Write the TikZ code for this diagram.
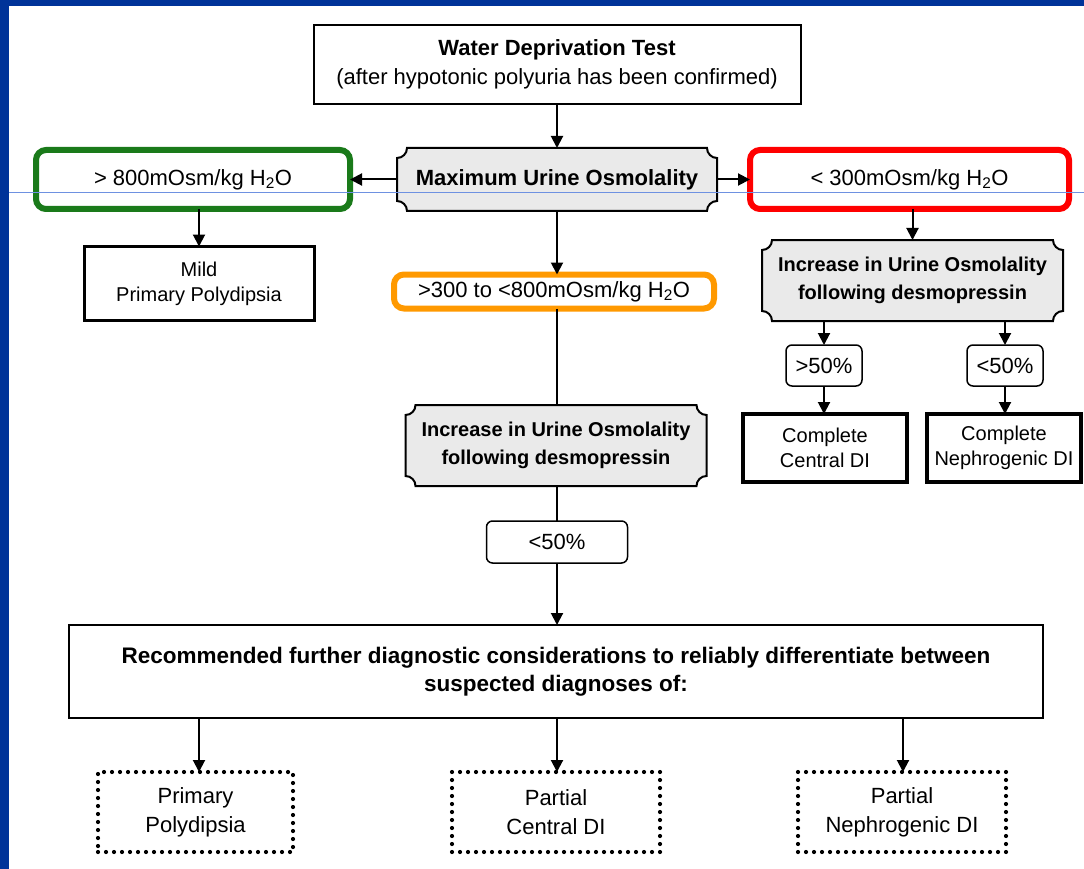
\documentclass[tikz,border=0pt]{standalone}
\usepackage{fontspec}
\setmainfont{Liberation Sans}
\usetikzlibrary{arrows.meta,backgrounds,calc}
\definecolor{slideblue}{RGB}{0,51,153}
\definecolor{guideblue}{RGB}{110,145,225}
\definecolor{boxgreen}{RGB}{26,122,26}
\definecolor{boxred}{RGB}{255,0,0}
\definecolor{boxorange}{RGB}{255,153,0}
\definecolor{plaquegray}{RGB}{234,234,234}
\tikzset{
  base/.style={inner sep=0pt, outer sep=0pt, align=center, font=\fontsize{22}{29}\selectfont},
  small/.style={font=\fontsize{20}{25}\selectfont},
  plainbox/.style={base, draw, line width=2pt},
  resultbox/.style={base, small, draw, line width=3pt},
  strongbox/.style={base, small, draw, line width=4pt},
  colorbox/.style={base, draw, line width=6pt, rounded corners=10pt, fill=white},
  pctbox/.style={base, draw, line width=1.5pt, rounded corners=6pt, fill=white},
  plaquenode/.style={base, font=\fontsize{20}{28}\selectfont\bfseries},
  plaqueline/.style={draw=black, line width=2pt, fill=plaquegray},
  dotbox/.style={base, draw, line width=4.2pt, dash pattern=on 0pt off 8pt, line cap=round},
  arr/.style={line width=2pt, -{Triangle[length=12pt,width=12pt]}},
  link/.style={line width=2pt},
}
\newcommand\plaqueshape[1]{%
  \begin{pgfonlayer}{background}
  \path[plaqueline] ([xshift=10pt]#1.north west) -- ([xshift=-10pt]#1.north east)
    arc[start angle=180,end angle=270,radius=10pt]
    -- ([yshift=10pt]#1.south east)
    arc[start angle=90,end angle=180,radius=10pt]
    -- ([xshift=10pt]#1.south west)
    arc[start angle=0,end angle=90,radius=10pt]
    -- ([yshift=-10pt]#1.north west)
    arc[start angle=270,end angle=360,radius=10pt] -- cycle;
  \end{pgfonlayer}}
\begin{document}
\begin{tikzpicture}[x=1pt,y=1pt]
\useasboundingbox (0,0) rectangle (1084,-869);
\begin{pgfonlayer}{background}
\fill[white] (0,0) rectangle (1084,-869);
\end{pgfonlayer}

% top
\node[plainbox, minimum width=487pt, minimum height=79pt] (top) at (557,-64.5)
  {\textbf{Water Deprivation Test}\\(after hypotonic polyuria has been confirmed)};

% maximum urine osmolality
\node[base, font=\fontsize{22}{29}\selectfont\bfseries, minimum width=320pt, minimum height=63pt] (max) at (557,-179.5) {Maximum Urine Osmolality};
\plaqueshape{max}

% colored boxes
\node[colorbox, draw=boxgreen, minimum width=314pt, minimum height=59pt] (green) at (193,-179.5) {> 800mOsm/kg H\textsubscript{2}O};
\node[colorbox, draw=boxred, minimum width=319pt, minimum height=59pt] (red) at (909.5,-179.5) {< 300mOsm/kg H\textsubscript{2}O};
\node[colorbox, draw=boxorange, minimum width=320pt, minimum height=34pt] (orange) at (554,-291.5) {>300 to <800mOsm/kg H\textsubscript{2}O};

% mild primary polydipsia
\node[resultbox, minimum width=230pt, minimum height=74pt] (mild) at (199,-283.5) {Mild\\Primary Polydipsia};

% right branch
\node[plaquenode, minimum width=301pt, minimum height=81pt] (inc1) at (912.5,-280.5) {Increase in Urine Osmolality\\following desmopressin};
\plaqueshape{inc1}
\node[pctbox, minimum width=76pt, minimum height=41pt] (gt50) at (824,-365.5) {>50\%};
\node[pctbox, minimum width=76pt, minimum height=41pt] (lt50a) at (1005,-365.5) {<50\%};
\node[strongbox, minimum width=164pt, minimum height=68pt] (ccdi) at (825,-448) {Complete\\Central DI};
\node[strongbox, minimum width=154pt, minimum height=68pt] (cndi) at (1004,-448) {Complete\\Nephrogenic DI};

% middle branch
\node[plaquenode, minimum width=301pt, minimum height=81pt] (inc2) at (556,-445.5) {Increase in Urine Osmolality\\following desmopressin};
\plaqueshape{inc2}
\node[pctbox, minimum width=141pt, minimum height=42pt] (lt50b) at (557,-542) {<50\%};

% recommended
\node[plainbox, minimum width=974pt, minimum height=93pt, font=\fontsize{22.5}{28}\selectfont\bfseries] (rec) at (556,-671.5)
  {Recommended further diagnostic considerations to reliably differentiate between\\suspected diagnoses of:};

% dotted outcome boxes
\node[dotbox, minimum width=195pt, minimum height=80pt] (pp) at (195.5,-812) {Primary\\Polydipsia};
\node[dotbox, minimum width=208pt, minimum height=80pt] (pcd) at (556,-812) {Partial\\Central DI};
\node[dotbox, minimum width=208pt, minimum height=80pt] (pnd) at (902,-812) {Partial\\Nephrogenic DI};

% connectors
\draw[arr] (top.south) -- (top.south |- max.north);
\draw[arr] (max.west) -- (green.east);
\draw[arr] (max.east) -- (red.west);
\draw[arr] (mild.north |- green.south) -- (mild.north);
\draw[arr] (max.south) -- (max.south |- orange.north);
\draw[link] (max.south |- orange.south) -- (max.south |- inc2.north);
\draw[link] (max.south |- inc2.south) -- (max.south |- lt50b.north);
\draw[arr] (lt50b.south) -- (lt50b.south |- rec.north);
\draw[arr] (199,0 |- rec.south) -- (199,0 |- pp.north);
\draw[arr] (rec.south -| lt50b.south) -- (lt50b.south |- pcd.north);
\draw[arr] (903,0 |- rec.south) -- (903,0 |- pnd.north);
\draw[arr] (inc1.north |- red.south) -- (inc1.north);
\draw[arr] (gt50.north |- inc1.south) -- (gt50.north);
\draw[arr] (lt50a.north |- inc1.south) -- (lt50a.north);
\draw[arr] (gt50.south) -- (gt50.south |- ccdi.north);
\draw[arr] (lt50a.south) -- (lt50a.south |- cndi.north);

% slide frame and guide line
\fill[slideblue] (0,0) rectangle (1084,-6);
\fill[slideblue] (0,0) rectangle (9,-869);
\draw[guideblue, line width=1pt] (9,-193) -- (1084,-193);
\end{tikzpicture}
\end{document}
